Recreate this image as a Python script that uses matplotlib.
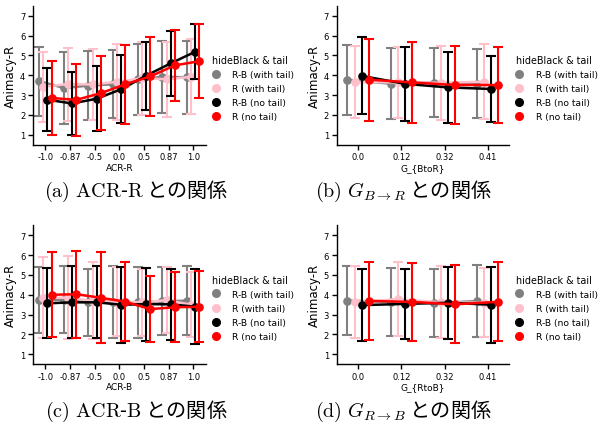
import matplotlib
matplotlib.use("Agg")
import matplotlib.pyplot as plt
from matplotlib.lines import Line2D
import numpy as np

plt.rcParams["font.family"] = ["DejaVu Sans"]
plt.rcParams["mathtext.fontset"] = "cm"

HUES = ["R-B (with tail)", "R (with tail)", "R-B (no tail)", "R (no tail)"]
COLORS = ["#808080", "#FFC0CB", "#000000", "#FF0000"]

ACR_TICKS = ["-1.0", "-0.87", "-0.5", "0.0", "0.5", "0.87", "1.0"]
G_TICKS = ["0.0", "0.12", "0.32", "0.41"]

# (a) ACR-R: mean / SD per hue (rows follow HUES)
A_MEAN = [
    [3.71, 3.36, 3.48, 3.55, 3.80, 3.92, 3.90],
    [3.42, 3.56, 3.54, 3.67, 3.85, 3.80, 3.92],
    [2.77, 2.58, 2.82, 3.30, 3.98, 4.60, 5.19],
    [2.86, 2.76, 3.10, 3.55, 3.94, 4.50, 4.71],
]
A_SD = [
    [1.74, 1.80, 1.74, 1.71, 1.78, 1.81, 1.83],
    [1.77, 1.84, 1.77, 1.91, 1.83, 1.89, 1.89],
    [1.60, 1.58, 1.65, 1.70, 1.72, 1.62, 1.39],
    [1.85, 1.81, 1.87, 1.98, 1.98, 1.78, 1.86],
]

# (b) G_{BtoR}
B_MEAN = [
    [3.77, 3.58, 3.63, 3.58],
    [3.67, 3.64, 3.62, 3.68],
    [3.97, 3.57, 3.39, 3.31],
    [3.78, 3.64, 3.51, 3.51],
]
B_SD = [
    [1.78, 1.79, 1.73, 1.73],
    [1.82, 1.77, 1.85, 1.89],
    [1.94, 1.85, 1.79, 1.68],
    [2.06, 2.02, 1.98, 1.91],
]

# (c) ACR-B
C_MEAN = [
    [3.73, 3.75, 3.62, 3.65, 3.62, 3.68, 3.70],
    [3.85, 3.85, 3.70, 3.65, 3.62, 3.73, 3.50],
    [3.57, 3.62, 3.62, 3.50, 3.53, 3.52, 3.40],
    [4.00, 4.03, 3.85, 3.65, 3.28, 3.37, 3.40],
]
C_SD = [
    [1.67, 1.68, 1.69, 1.81, 1.78, 1.73, 1.75],
    [2.03, 2.10, 1.94, 1.75, 1.70, 1.67, 1.64],
    [1.77, 1.82, 1.81, 1.92, 1.84, 1.79, 1.90],
    [2.15, 2.20, 2.30, 2.00, 1.68, 1.77, 1.79],
]

# (d) G_{RtoB}
D_MEAN = [
    [3.70, 3.65, 3.58, 3.68],
    [3.63, 3.78, 3.62, 3.60],
    [3.48, 3.54, 3.60, 3.50],
    [3.69, 3.64, 3.52, 3.65],
]
D_SD = [
    [1.75, 1.71, 1.73, 1.80],
    [1.81, 1.86, 1.81, 1.74],
    [1.83, 1.78, 1.81, 1.92],
    [1.98, 1.97, 1.97, 2.00],
]

OFFSETS = [-0.25, -0.083, 0.083, 0.25]


def panel(ax, ticks, means, sds, xlabel):
    x = np.arange(len(ticks))
    for i, (m, s, c) in enumerate(zip(means, sds, COLORS)):
        xs = x + OFFSETS[i]
        ax.errorbar(xs, m, yerr=s, color=c, ecolor=c, lw=1.8, elinewidth=1.5,
                    capsize=3.8, capthick=1.5, marker="o", ms=5.2, zorder=2 + i)
    ax.set_xticks(x)
    ax.set_xticklabels(ticks)
    ax.set_xlim(-0.5, len(ticks) - 0.5)
    ax.set_ylim(0.5, 7.5)
    ax.set_yticks(range(1, 8))
    ax.set_xlabel(xlabel, fontsize=6.5, labelpad=1)
    ax.set_ylabel("Animacy-R", fontsize=8.5, labelpad=2)
    ax.tick_params(labelsize=6.0, length=3.5, width=1, pad=2)
    ax.spines[["top", "right"]].set_visible(False)
    for sp in ["left", "bottom"]:
        ax.spines[sp].set_linewidth(1.0)
    handles = [Line2D([], [], marker="o", ls="", color=c, ms=5.5) for c in COLORS]
    leg = ax.legend(handles, HUES, title="hideBlack & tail", frameon=False,
                    loc="upper left", bbox_to_anchor=(1.04, 0.645),
                    fontsize=6.6, title_fontsize=6.9, borderpad=0, borderaxespad=0,
                    handlelength=0.7, handletextpad=1.45, labelspacing=0.55)
    leg._legend_box.align = "left"


fig = plt.figure(figsize=(5.98, 4.39), dpi=100)
W, H = 0.2886, 0.3164
ax_a = fig.add_axes([0.0552, 0.668, W, H])
ax_b = fig.add_axes([0.563, 0.668, W, H])
ax_c = fig.add_axes([0.0552, 0.168, W, H])
ax_d = fig.add_axes([0.563, 0.168, W, H])

panel(ax_a, ACR_TICKS, A_MEAN, A_SD, "ACR-R")
panel(ax_b, G_TICKS, B_MEAN, B_SD, "G_{BtoR}")
panel(ax_c, ACR_TICKS, C_MEAN, C_SD, "ACR-B")
panel(ax_d, G_TICKS, D_MEAN, D_SD, "G_{RtoB}")

cap_kw = dict(fontsize=14.5, ha="center", va="center",
              family=["Noto Sans CJK JP", "DejaVu Sans"])
fig.text(0.228, 0.563, r"$\mathrm{(a)\ ACR}$-$\mathrm{R}$ との関係", **cap_kw)
fig.text(0.675, 0.563, r"$\mathrm{(b)}\ G_{B\rightarrow R}$ との関係", **cap_kw)
fig.text(0.228, 0.062, r"$\mathrm{(c)\ ACR}$-$\mathrm{B}$ との関係", **cap_kw)
fig.text(0.675, 0.062, r"$\mathrm{(d)}\ G_{R\rightarrow B}$ との関係", **cap_kw)

fig.savefig("out.png", dpi=100)
